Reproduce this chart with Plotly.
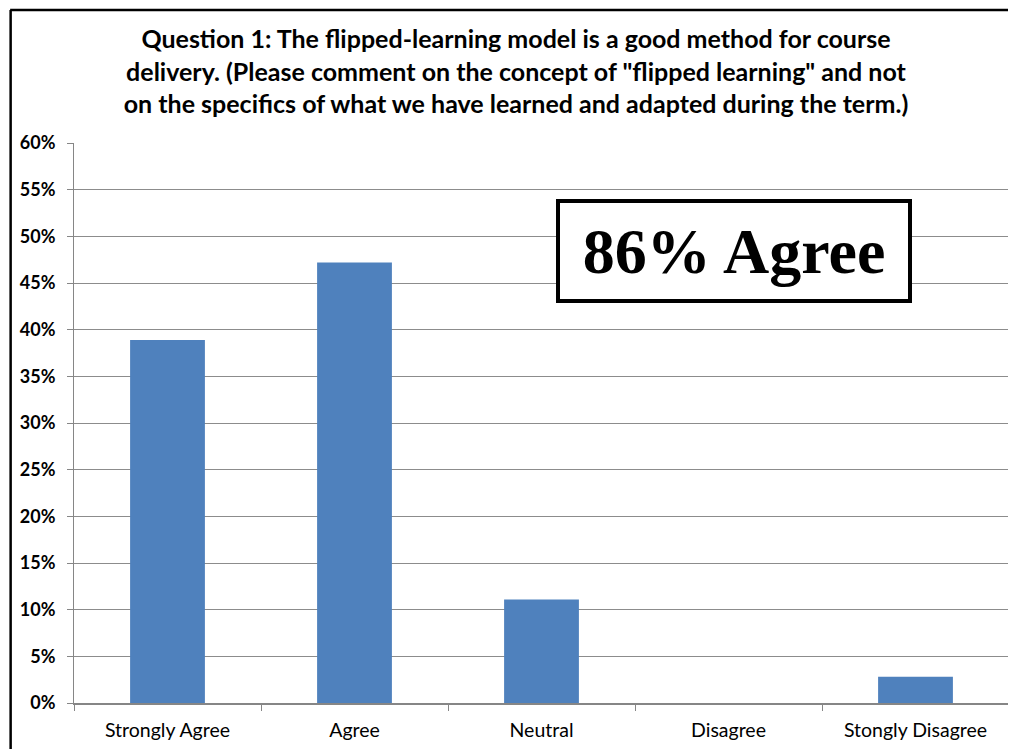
import plotly.graph_objects as go

categories = ["Strongly Agree", "Agree", "Neutral", "Disagree", "Stongly Disagree"]
values = [0.389, 0.472, 0.111, 0.0, 0.028]
y_ticks = [0, 0.05, 0.10, 0.15, 0.20, 0.25, 0.30, 0.35, 0.40, 0.45, 0.50, 0.55, 0.60]
y_labels = ["0%", "5%", "10%", "15%", "20%", "25%", "30%", "35%", "40%", "45%", "50%", "55%", "60%"]
title_text = ("Question 1: The flipped-learning model is a good method for course<br>"
              "delivery. (Please comment on the concept of \"flipped learning\" and not<br>"
              "on the specifics of what we have learned and adapted during the term.)")
note_text = "86% Agree"

W, H = 1016, 749
OFF = 8  # page body margin offset
L, R, T, B = 72 - OFF, 15, 143 - OFF, 54
pw, ph = W - L - R, H - T - B

def px(x):
    # x in page pixels -> paper fraction
    return (x - OFF - L) / pw

def py(y):
    return (H - B - (y - OFF)) / ph

fig = go.Figure(go.Bar(x=categories, y=values, marker_color="#4F81BD",
                       marker_line_width=0, width=0.4))

fig.update_layout(
    width=W, height=H,
    margin=dict(l=L, r=R, t=T, b=B),
    paper_bgcolor="white", plot_bgcolor="white",
    showlegend=False,
    font=dict(family="Lato, Carlito, Calibri, sans-serif", color="black"),
    title=dict(text=title_text, x=0.5, xanchor="center", y=1 - (48 - OFF) / H, yanchor="middle",
               font=dict(size=25, family="Lato, Carlito, sans-serif", weight="bold")),
    xaxis=dict(showgrid=False, showline=True, linecolor="#868686", linewidth=1.5,
               ticks="outside", tickson="boundaries", ticklen=6, tickcolor="#868686",
               tickfont=dict(size=19.5), ticklabelstandoff=9, range=[-0.5, 4.5]),
    yaxis=dict(range=[0, 0.6], tickvals=y_ticks, ticktext=y_labels,
               showgrid=True, gridcolor="#8c8c8c", gridwidth=1,
               showline=True, linecolor="#868686", linewidth=1,
               ticks="outside", ticklen=6, tickcolor="#868686",
               ticklabelstandoff=8,
               tickfont=dict(size=18, weight="bold"), zeroline=False),
    annotations=[dict(text=note_text, xref="paper", yref="paper",
                      x=px(733.5), y=py(251), xanchor="center", yanchor="middle",
                      showarrow=False, bgcolor="white", bordercolor="black",
                      borderwidth=4, borderpad=0, width=348, height=96,
                      font=dict(size=64, family="Liberation Serif, Times New Roman, serif",
                                weight="bold", color="black"))],
    shapes=[
        dict(type="line", xref="paper", yref="paper", x0=px(8), x1=px(1040),
             y0=py(10), y1=py(10), line=dict(color="black", width=2.5)),
        dict(type="line", xref="paper", yref="paper", x0=px(8.5), x1=px(8.5),
             y0=py(10), y1=py(770), line=dict(color="black", width=2.5)),
    ],
)

fig.write_html("out.html")
